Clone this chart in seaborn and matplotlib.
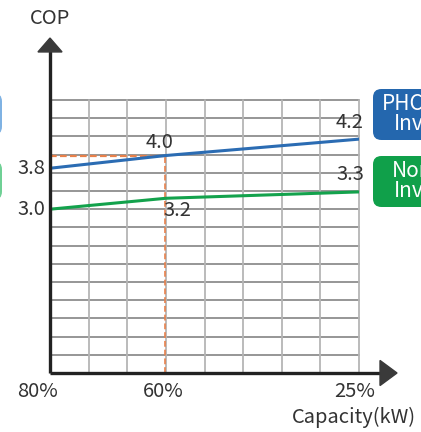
import matplotlib
matplotlib.use("Agg")
import matplotlib.pyplot as plt
import matplotlib.transforms as mtransforms
from matplotlib.patches import FancyBboxPatch, Polygon
import seaborn as sns

# capacity steps shown on the x axis (grid columns 0..8)
capacity_labels = ["80%", "60%", "25%"]
capacity_pos = [0, 3, 8]

# COP values printed on the chart
cop_phc = [3.8, 4.0, 4.2]
cop_normal = [3.0, 3.2, 3.3]

# schematic line heights (in grid rows, 15 rows total)
level_phc = [11.25, 11.95, 12.85]
level_normal = [9.0, 9.6, 9.95]

BLUE = "#2b6cb3"
GREEN = "#13a24c"
ORANGE = "#e8804a"
TXT = "#333333"
FS = 14.5

W, H = 421, 432

sns.set_style("white")
plt.rcParams["font.family"] = ["Noto Sans CJK JP", "DejaVu Sans"]

fig = plt.figure(figsize=(W / 100, H / 100), dpi=100)
ax = fig.add_axes([50 / W, 59 / H, 309 / W, 273 / H])
ax.set_xlim(0, 8)
ax.set_ylim(0, 15)

# grid
for i in range(1, 16):
    ax.axhline(i, color="#8e8e8e", lw=1.3, zorder=1, clip_on=False)
for i in range(1, 9):
    ax.axvline(i, color="#b5b5b5", lw=1.3, zorder=1, clip_on=False)

for s in ax.spines.values():
    s.set_visible(False)

# lines
sns.lineplot(x=capacity_pos, y=level_phc, ax=ax, color=BLUE, lw=2.2, zorder=4)
sns.lineplot(x=capacity_pos, y=level_normal, ax=ax, color=GREEN, lw=2.2, zorder=4)

# orange guide lines at 60%
ax.plot([0, capacity_pos[1]], [level_phc[1], level_phc[1]], color=ORANGE,
        lw=1.6, ls=(0, (3, 1.5)), zorder=3)
ax.plot([capacity_pos[1] - 0.02] * 2, [0, level_phc[1]], color=ORANGE,
        lw=1.4, ls=(0, (3, 1.5)), alpha=0.85, zorder=3)

# axes with arrows
ax.plot([0, 0], [0, 1.18], transform=ax.transAxes, color="#222222", lw=2.4,
        clip_on=False, zorder=5, solid_capstyle="butt")
ax.plot([0, 1.07], [0, 0], transform=ax.transAxes, color="#222222", lw=2.4,
        clip_on=False, zorder=5, solid_capstyle="butt")
ax.add_patch(Polygon([[-0.039, 1.176], [0.039, 1.176], [0, 1.227]], closed=True,
                     transform=ax.transAxes, color="#3a3a3a", clip_on=False, zorder=6))
ax.add_patch(Polygon([[1.068, -0.046], [1.068, 0.046], [1.123, 0]], closed=True,
                     transform=ax.transAxes, color="#3a3a3a", clip_on=False, zorder=6))

# ticks
ax.set_yticks([])
ax.set_xticks(capacity_pos)
ax.set_xticklabels(capacity_labels, fontsize=FS, color=TXT)
ax.tick_params(axis="x", length=0, pad=6)
shifts = [-13, -3, -4]
for lab, dx in zip(ax.get_xticklabels(), shifts):
    lab.set_transform(lab.get_transform() +
                      mtransforms.ScaledTranslation(dx / 100, 0, fig.dpi_scale_trans))

ax.text(0, 1.30, "COP", transform=ax.transAxes, ha="center", va="center",
        fontsize=FS, color=TXT)
ax.text(0.984, -0.161, "Capacity(kW)", transform=ax.transAxes, ha="center",
        va="center", fontsize=FS, color=TXT)

# value labels
offsets_phc = [(-5, 0, "right"), (-6, 13, "center"), (-9, 17, "center")]
offsets_normal = [(-5, 0, "right"), (11, -12, "center"), (-9, 17, "center")]
for xp, yv, val, (dx, dy, ha) in zip(capacity_pos, level_phc, cop_phc, offsets_phc):
    ax.annotate(f"{val:.1f}", (xp, yv), xytext=(dx, dy), textcoords="offset pixels",
                ha=ha, va="center", fontsize=FS, color=TXT, zorder=7,
                annotation_clip=False)
for xp, yv, val, (dx, dy, ha) in zip(capacity_pos, level_normal, cop_normal, offsets_normal):
    ax.annotate(f"{val:.1f}", (xp, yv), xytext=(dx, dy), textcoords="offset pixels",
                ha=ha, va="center", fontsize=FS, color=TXT, zorder=7,
                annotation_clip=False)


def box(x0, y0, x1, y1, color):
    p = FancyBboxPatch((x0 / W, 1 - y1 / H), (x1 - x0) / W, (y1 - y0) / H,
                       boxstyle="round,pad=0,rounding_size=0.02",
                       transform=fig.transFigure, facecolor=color,
                       edgecolor="none", mutation_aspect=W / H)
    fig.patches.append(p)


# legend boxes (cut by the figure edge, as in the source picture)
box(373, 89, 470, 140, "#2467ae")
box(373, 156, 470, 207, "#10a04a")
box(-60, 93, 2, 135, "#7fb2e3")
box(-60, 161, 2, 200, "#6fd095")

fig.text(382 / W, 1 - 104 / H, "PHC", ha="left", va="center", fontsize=15, color="white")
fig.text(394 / W, 1 - 124 / H, "Inverter", ha="left", va="center", fontsize=15, color="white")
fig.text(392 / W, 1 - 171 / H, "Normal", ha="left", va="center", fontsize=15, color="white")
fig.text(394 / W, 1 - 191 / H, "Inverter", ha="left", va="center", fontsize=15, color="white")

fig.savefig("out.png", dpi=100)
